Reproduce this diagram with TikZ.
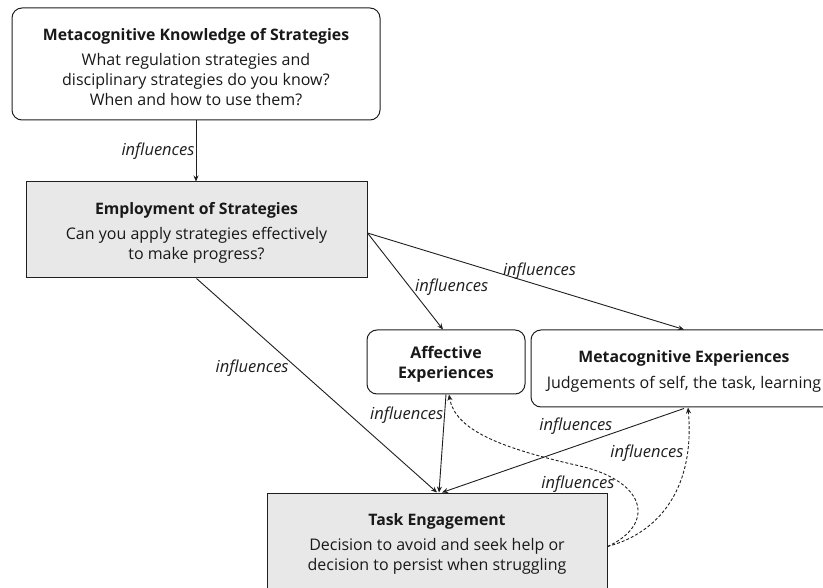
\documentclass[tikz,border=0pt]{standalone}
\usepackage{fontspec}
\setmainfont{Open Sans}
\usetikzlibrary{arrows.meta,calc}
\newcommand\topfixstrut{\rule{0pt}{17.5pt}}
\begin{document}
\begin{tikzpicture}[x=1pt,y=-1pt,
  box/.style={draw=black!88, line width=1pt, align=center, inner sep=0pt, text=black!90, font=\fontsize{16}{20}\selectfont},
  rbox/.style={box, rounded corners=10pt, fill=white},
  gbox/.style={box, fill=black!9},
  conn/.style={draw=black!88, line width=0.9pt, -{Stealth[length=6pt,width=5pt]}},
  dconn/.style={conn, dash pattern=on 3pt off 2pt},
  lab/.style={font=\fontsize{16.5}{18}\selectfont\itshape, inner sep=1pt, text=black!88}
]
\useasboundingbox (0,0) rectangle (823,588);
\clip (0,0) rectangle (823,588);
\fill[white] (0,0) rectangle (823,588);

\node[rbox, minimum width=368pt, minimum height=112pt] (mks) at (196,64)
  {\topfixstrut{\fontsize{15.8}{20}\selectfont\textbf{Metacognitive Knowledge of Strategies}}\\[5pt]What regulation strategies and\\disciplinary strategies do you know?\\When and how to use them?};
\node[gbox, minimum width=341pt, minimum height=96pt] (emp) at (196.5,230)
  {\topfixstrut{\fontsize{15.8}{20}\selectfont\textbf{Employment of Strategies}}\\[5pt]Can you apply strategies effectively\\to make progress?};
\node[rbox, minimum width=158pt, minimum height=64pt] (aff) at (446,362)
  {\topfixstrut\textbf{Affective}\\\textbf{Experiences}};
\node[rbox, minimum width=306pt, minimum height=77pt] (mex) at (684,368.5)
  {\topfixstrut{\fontsize{15.8}{20}\selectfont\textbf{Metacognitive Experiences}}\\[6pt]Judgements of self, the task, learning};
\node[gbox, minimum width=340pt, minimum height=97pt] (task) at (437,541.5)
  {\topfixstrut{\fontsize{15.8}{20}\selectfont\textbf{Task Engagement}}\\[5pt]Decision to avoid and seek help or\\decision to persist when struggling};

\draw[conn] (mks.south) -- (mks.south |- emp.north)
  node[lab, midway, left] {influences};
\draw[conn] ([yshift=-3pt]emp.east) -- ([xshift=-3pt]aff.north)
  node[lab, pos=0.56, anchor=west, xshift=4pt] {influences};
\draw[conn] ([yshift=-3pt]emp.east) -- (mex.north)
  node[lab, pos=0.55, anchor=south, yshift=5pt, xshift=-2pt] {influences};
\draw[conn] (emp.south) -- (task.north)
  node[lab, pos=0.414, anchor=east, xshift=-6pt, yshift=-1pt] {influences};
\draw[conn] (aff.south) -- ([xshift=2pt]task.north)
  node[lab, pos=0.19, anchor=east, yshift=-2pt] {influences};
\draw[conn] ([yshift=-1pt]mex.south) -- ([xshift=5pt]task.north)
  node[lab, pos=0.29, anchor=south east, yshift=-3pt] {influences};

\draw[dconn] ([yshift=-5pt]task.east) .. controls (655,525) and (648,482) .. (580,466)
  .. controls (500,448) and (455,430) .. ([xshift=3pt]aff.south);
\draw[dconn] ([yshift=-5pt]task.east) .. controls (662,532) and (695,485) .. ([xshift=4pt]mex.south);
\node[lab] (l7) at (578,484) {influences};
\node[lab] (l8) at (647,453) {influences};
\end{tikzpicture}
\end{document}
